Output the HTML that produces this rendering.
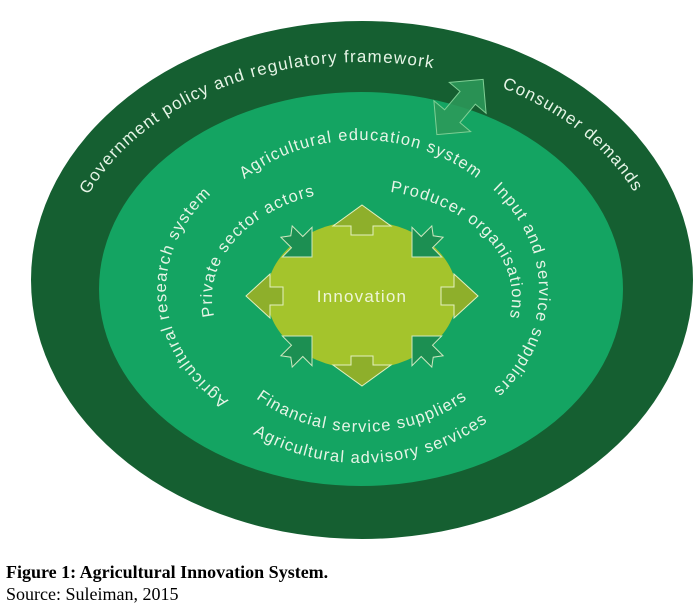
<!DOCTYPE html>
<html><head><meta charset="utf-8"><style>
html,body{margin:0;padding:0;background:#fff;width:699px;height:615px;overflow:hidden}
svg{display:block}
.t{font-family:"Liberation Sans",sans-serif;fill:#e6f4e6;font-size:16.5px;letter-spacing:1.2px}
.cap{font-family:"Liberation Serif",serif;font-size:18px;fill:#000}
</style></head><body>
<svg width="699" height="615" viewBox="0 0 699 615" xmlns="http://www.w3.org/2000/svg">
<defs>
<path id="pGov" d="M64 282 A298 220 0 0 1 660 282"/>
<path id="pEdu" d="M188 290 A173 150 0 0 1 534 290"/>
<path id="pRes" d="M361 440 A195 150 0 0 1 361 140"/>
<path id="pInp" d="M361 140 A178 150 0 0 1 361 440"/>
<path id="pAdv" d="M166 290 A195 173 0 0 0 556 290"/>
<path id="pPri" d="M362 406 A150 108 0 0 1 362 190"/>
<path id="pPro" d="M362 190 A150 108 0 0 1 362 406"/>
<path id="pFin" d="M202 298 A160 134 0 0 0 522 298"/>
<polygon id="diag" points="0,0 -21,-21 -21,-8 -36,-8 -30,0 -36,8 -21,8 -21,21" fill="#1c8f52" stroke="#cfe8c0" stroke-width="1"/>
</defs>
<ellipse cx="362" cy="280" rx="331" ry="259" fill="#155f31"/>
<ellipse cx="361" cy="289" rx="262" ry="197" fill="#14a462"/>
<ellipse cx="362" cy="295" rx="95" ry="74" fill="#a4c42c"/>

<g fill="#8eaf2b" stroke="#e4f0c0" stroke-width="1">
<polygon points="362,205 391,226 373,226 373,235 351,235 351,226 333,226"/>
<polygon points="362,386 391,365 373,365 373,356 351,356 351,365 333,365"/>
<polygon points="246,296 270,274 270,287 283,287 283,305 270,305 270,318"/>
<polygon points="478,296 454,274 454,287 441,287 441,305 454,305 454,318"/>
</g>
<use href="#diag" transform="translate(312,257) rotate(45)"/>
<use href="#diag" transform="translate(412,257) rotate(135)"/>
<use href="#diag" transform="translate(312,336) rotate(-45)"/>
<use href="#diag" transform="translate(412,336) rotate(-135)"/>

<g transform="translate(460,107) rotate(-50)" fill="#2d9a5a" fill-opacity="0.85" stroke="#7fcf95" stroke-width="1">
<polygon points="36,0 12,-24 12,-10 -12,-10 -12,-24 -36,0 -12,24 -12,10 12,10 12,24"/>
</g>

<text class="t" style="font-size:17px"><textPath href="#pGov" startOffset="35%" text-anchor="middle">Government policy and regulatory framework</textPath></text>
<text class="t" style="font-size:17px"><textPath href="#pGov" startOffset="78%" text-anchor="middle">Consumer demands</textPath></text>
<text class="t"><textPath href="#pEdu" startOffset="50%" text-anchor="middle">Agricultural education system</textPath></text>
<text class="t"><textPath href="#pRes" startOffset="48%" text-anchor="middle">Agricultural research system</textPath></text>
<text class="t"><textPath href="#pInp" startOffset="50%" text-anchor="middle">Input and service suppliers</textPath></text>
<text class="t"><textPath href="#pAdv" startOffset="52%" text-anchor="middle">Agricultural advisory services</textPath></text>
<text class="t"><textPath href="#pPri" startOffset="67%" text-anchor="middle">Private sector actors</textPath></text>
<text class="t"><textPath href="#pPro" startOffset="31%" text-anchor="middle">Producer organisations</textPath></text>
<text class="t"><textPath href="#pFin" startOffset="50%" text-anchor="middle">Financial service suppliers</textPath></text>
<text x="362" y="302" text-anchor="middle" class="t" style="font-size:17px;fill:#eef5d8;letter-spacing:1.2px">Innovation</text>

<text x="6" y="578" class="cap" font-weight="bold">Figure 1: Agricultural Innovation System.</text>
<text x="6" y="600" class="cap">Source: Suleiman, 2015</text>
</svg>
</body></html>
